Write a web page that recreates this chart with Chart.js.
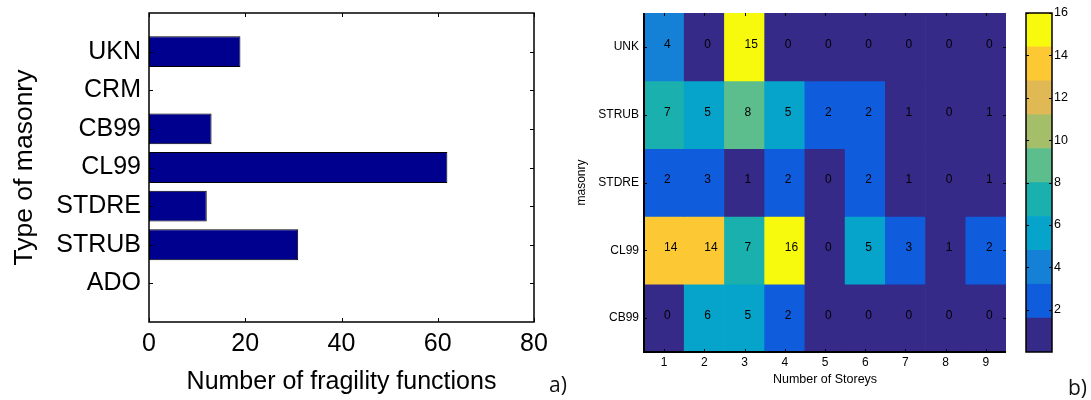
<!DOCTYPE html>
<html>
<head>
<meta charset="utf-8">
<script src="https://cdn.jsdelivr.net/npm/chart.js@4/dist/chart.umd.min.js"></script>
<style>
  html, body { margin: 0; padding: 0; background: #fff; }
  #wrap { position: relative; width: 1091px; height: 400px; overflow: hidden; }
  canvas { position: absolute; top: 0; }
  .tag { position: absolute; font-family: 'Open Sans', sans-serif; font-size: 21px; line-height: 1; color: #111; }
</style>
</head>
<body>
<div id="wrap">
  <canvas id="counts" width="570" height="400" style="left:0"></canvas>
  <canvas id="grid" width="450" height="400" style="left:570px"></canvas>
  <canvas id="cbar" width="81" height="400" style="left:1010px"></canvas>
  <div class="tag" style="left:549px; top:374px">a)</div>
  <div class="tag" style="left:1068px; top:377px">b)</div>
</div>
<script>
// masonry types, listed top to bottom as on the axis
const masonryTypes = ['UKN', 'CRM', 'CB99', 'CL99', 'STDRE', 'STRUB', 'ADO'];
const fragilityCounts = [19, 0, 13, 62, 12, 31, 0];
const countTicks = [0, 20, 40, 60, 80];

// storey breakdown, rows top to bottom
const storeys = ['1', '2', '3', '4', '5', '6', '7', '8', '9'];
const gridRows = ['UNK', 'STRUB', 'STDRE', 'CL99', 'CB99'];
const unkCounts = [4, 0, 15, 0, 0, 0, 0, 0, 0];
const strubCounts = [7, 5, 8, 5, 2, 2, 1, 0, 1];
const stdreCounts = [2, 3, 1, 2, 0, 2, 1, 0, 1];
const cl99Counts = [14, 14, 7, 16, 0, 5, 3, 1, 2];
const cb99Counts = [0, 6, 5, 2, 0, 0, 0, 0, 0];
const gridValues = [unkCounts, strubCounts, stdreCounts, cl99Counts, cb99Counts];

// 10-step parula, colour limits 0..16
const parula10 = ['#352a87', '#0f5cdd', '#1481d6', '#06a4ca', '#19b0ad',
                  '#5bbe8c', '#a5be6a', '#e0b954', '#fcc935', '#f8fa0e'];
const cLim = [0, 16];
const colorbarTicks = [2, 4, 6, 8, 10, 12, 14, 16];

Chart.defaults.font.family = "'Liberation Sans', Arial, sans-serif";
Chart.defaults.color = '#000';
Chart.defaults.animation = false;
Chart.defaults.plugins.legend.display = false;
Chart.defaults.plugins.tooltip.enabled = false;

const noGrid = { display: false, drawTicks: false };

// pin a scale box to a fixed size and drop the label overhang padding
function fixBox(size) {
  return s => {
    if (s.isHorizontal()) s.height = size; else s.width = size;
    s.paddingTop = s.paddingBottom = s.paddingLeft = s.paddingRight = 0;
  };
}

function colorFor(v) {
  const step = (cLim[1] - cLim[0]) / parula10.length;
  const i = Math.floor((v - cLim[0]) / step);
  return parula10[Math.max(0, Math.min(parula10.length - 1, i))];
}

// inward tick marks + axes box, matlab style
const boxTicks = {
  id: 'boxTicks',
  afterDatasetsDraw(chart, args, opts) {
    const { ctx, chartArea: a } = chart;
    const len = opts.len || 4;
    ctx.save();
    ctx.strokeStyle = '#000';
    ctx.lineWidth = 1;
    ctx.beginPath();
    for (const id of opts.axes || []) {
      const s = chart.scales[id];
      s.ticks.forEach((t, i) => {
        const p = Math.round(s.getPixelForTick(i)) + 0.5;
        if (s.isHorizontal()) {
          ctx.moveTo(p, a.bottom); ctx.lineTo(p, a.bottom - len);
          ctx.moveTo(p, a.top); ctx.lineTo(p, a.top + len);
        } else {
          ctx.moveTo(a.left, p); ctx.lineTo(a.left + len, p);
          ctx.moveTo(a.right, p); ctx.lineTo(a.right - len, p);
        }
      });
    }
    ctx.stroke();
    ctx.lineWidth = opts.frame || 1.5;
    ctx.beginPath();
    if (opts.sides === 'lb') {
      ctx.moveTo(a.left, a.top); ctx.lineTo(a.left, a.bottom); ctx.lineTo(a.right, a.bottom);
    } else {
      ctx.rect(a.left, a.top, a.right - a.left, a.bottom - a.top);
    }
    ctx.stroke();
    ctx.restore();
  }
};

// left panel: horizontal bars
new Chart(document.getElementById('counts'), {
  type: 'bar',
  data: {
    datasets: [{
      data: fragilityCounts.map((v, i) => ({ x: v, y: masonryTypes.length - i })),
      backgroundColor: '#00008f',
      borderColor: '#000',
      borderWidth: c => (c.raw && c.raw.x ? 1 : 0),
      borderSkipped: false,
      barPercentage: 1,
      categoryPercentage: 0.8
    }]
  },
  options: {
    indexAxis: 'y',
    responsive: false,
    layout: { padding: { top: 13, right: 36, bottom: 0, left: 0 } },
    scales: {
      x: {
        type: 'linear', min: 0, max: 80,
        afterBuildTicks: s => { s.ticks = countTicks.map(v => ({ value: v })); },
        afterFit: fixBox(78),
        grid: noGrid, border: { display: false },
        ticks: { font: { size: 25 }, padding: 7, maxRotation: 0 },
        title: { display: true, text: 'Number of fragility functions', font: { size: 25 }, padding: { top: 0, bottom: 3 } }
      },
      y: {
        type: 'linear', offset: false, min: 0, max: masonryTypes.length + 1,
        afterBuildTicks: s => { s.ticks = masonryTypes.map((n, i) => ({ value: masonryTypes.length - i })); },
        afterFit: fixBox(149),
        grid: noGrid, border: { display: false },
        ticks: { font: { size: 25 }, padding: 8, autoSkip: false,
                 callback: v => masonryTypes[masonryTypes.length - v] },
        title: { display: true, text: 'Type of masonry', font: { size: 26.5 }, padding: { top: 9, bottom: 0 } }
      }
    },
    plugins: { boxTicks: { axes: ['x', 'y'], len: 4, frame: 1.5 } }
  },
  plugins: [boxTicks]
});

// counts printed in each cell, left edge at the cell centre
const cellText = {
  id: 'cellText',
  afterDatasetsDraw(chart) {
    const { ctx } = chart;
    ctx.save();
    ctx.font = "12px 'Liberation Sans', Arial, sans-serif";
    ctx.fillStyle = '#000';
    ctx.textAlign = 'left';
    ctx.textBaseline = 'middle';
    chart.data.datasets.forEach((ds, di) => {
      chart.getDatasetMeta(di).data.forEach((el, i) => {
        ctx.fillText(String(gridValues[di][i]), el.x, (el.y + el.base) / 2 - 2.5);
      });
    });
    ctx.restore();
  }
};

// right panel: storey x masonry grid
new Chart(document.getElementById('grid'), {
  type: 'bar',
  data: {
    labels: storeys,
    datasets: gridRows.map((name, r) => {
      const pos = gridRows.length - r;
      return {
        label: name,
        data: gridValues[r].map(() => [pos - 0.5, pos + 0.5]),
        backgroundColor: gridValues[r].map(colorFor),
        borderWidth: 0,
        grouped: false,
        barPercentage: 1,
        categoryPercentage: 1
      };
    })
  },
  options: {
    responsive: false,
    layout: { padding: { top: 13, right: 14, bottom: 0, left: 0 } },
    scales: {
      x: {
        afterFit: fixBox(48),
        grid: noGrid, border: { display: false },
        ticks: { font: { size: 12 }, padding: 3, maxRotation: 0 },
        title: { display: true, text: 'Number of Storeys', font: { size: 12.5 }, padding: { top: 0, bottom: 13 } }
      },
      y: {
        type: 'linear', min: 0.5, max: gridRows.length + 0.5,
        afterBuildTicks: s => { s.ticks = gridRows.map((n, i) => ({ value: gridRows.length - i })); },
        afterFit: fixBox(74),
        grid: noGrid, border: { display: false },
        ticks: { font: { size: 12 }, padding: 5, autoSkip: false,
                 callback: v => gridRows[gridRows.length - v] },
        title: { display: true, text: 'masonry', font: { size: 12 }, padding: { top: 4, bottom: 0 } }
      }
    },
    plugins: { boxTicks: { axes: ['x', 'y'], len: 3, frame: 2, sides: 'lb' } }
  },
  plugins: [cellText, boxTicks]
});

// colour bar
const bandSize = (cLim[1] - cLim[0]) / parula10.length;
new Chart(document.getElementById('cbar'), {
  type: 'bar',
  data: {
    labels: [''],
    datasets: parula10.map((c, i) => ({
      data: [[cLim[0] + i * bandSize, cLim[0] + (i + 1) * bandSize]],
      backgroundColor: c,
      borderWidth: 0,
      grouped: false,
      barPercentage: 1,
      categoryPercentage: 1
    }))
  },
  options: {
    responsive: false,
    layout: { padding: { top: 13, right: 0, bottom: 48, left: 16 } },
    scales: {
      x: { display: false },
      y: {
        type: 'linear', position: 'right', min: cLim[0], max: cLim[1],
        afterBuildTicks: s => { s.ticks = colorbarTicks.map(v => ({ value: v })); },
        afterFit: fixBox(39),
        grid: noGrid, border: { display: false },
        ticks: { font: { size: 12.5 }, padding: 2, autoSkip: false }
      }
    },
    plugins: { boxTicks: { axes: ['y'], len: 3, frame: 1.5 } }
  },
  plugins: [boxTicks]
});
</script>
</body>
</html>
